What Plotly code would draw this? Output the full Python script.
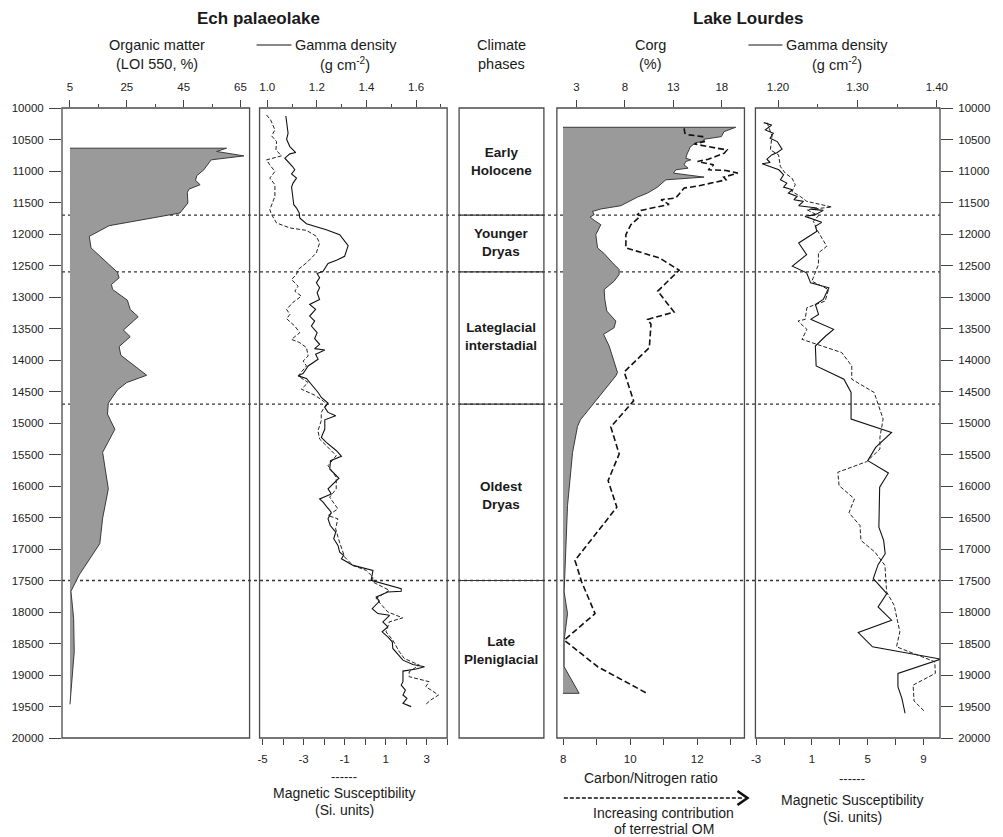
import plotly.graph_objects as go

# ---------------- DATA ----------------
# Ech palaeolake - Organic matter (LOI 550, %)
ech_om_age = [10638, 10690, 10760, 10823, 10981, 11076, 11150, 11218, 11287, 11340,
              11508, 11667, 11868, 12037, 12221, 12607, 12696, 12802, 12881, 13050,
              13197, 13313, 13525, 13630, 13788, 13925, 14094, 14242, 14357, 14475,
              14685, 14859, 15100, 15466, 16046, 16510, 16915, 17407, 17671, 18104,
              18631, 19001, 19466]
ech_om = [60.1, 56.6, 66.2, 54.7, 52.1, 49.6, 49.2, 50.8, 46.9, 46.3,
          46.5, 43.7, 18.8, 11.8, 12.4, 21.7, 22.3, 19.6, 20.0, 25.2,
          26.2, 29.0, 23.8, 26.2, 22.3, 22.9, 27.6, 32.0, 25.0, 21.7,
          18.5, 18.2, 20.8, 16.5, 18.5, 16.5, 15.5, 8.3, 5.35, 6.3,
          6.5, 5.9, 5.0]
ech_om_base = 5

# Ech palaeolake - Gamma density (g cm-2)
ech_gd_age = [10127, 10243, 10401, 10496, 10612, 10707, 10728, 10797, 10876, 10929,
              10981, 11045, 11113, 11192, 11256, 11350, 11535, 11588, 11667, 11746,
              11836, 11931, 12010, 12184, 12353, 12417, 12469, 12591, 12627, 12696,
              12775, 12854, 12933, 13039, 13118, 13197, 13303, 13382, 13461, 13567,
              13662, 13751, 13819, 13841, 13909, 13988, 14094, 14210, 14252, 14294,
              14421, 14516, 14595, 14685, 14753, 14832, 14886, 14949, 15096, 15228,
              15307, 15440, 15529, 15598, 15730, 15877, 16046, 16125, 16205, 16257,
              16336, 16416, 16521, 16627, 16732, 16838, 16944, 17049, 17102, 17154,
              17260, 17339, 17498, 17577, 17629, 17671, 17682, 17761, 17830, 17946,
              18025, 18052, 18157, 18236, 18315, 18394, 18473, 18579, 18685, 18764,
              18832, 18869, 18906, 18938, 19106, 19160, 19239, 19318, 19370, 19449,
              19502]
ech_gd = [1.075, 1.080, 1.084, 1.078, 1.091, 1.115, 1.091, 1.071, 1.091, 1.102,
          1.111, 1.098, 1.118, 1.104, 1.098, 1.102, 1.107, 1.118, 1.129, 1.131,
          1.158, 1.238, 1.292, 1.326, 1.312, 1.279, 1.245, 1.225, 1.201, 1.211,
          1.198, 1.211, 1.201, 1.211, 1.171, 1.195, 1.171, 1.191, 1.178, 1.201,
          1.191, 1.211, 1.191, 1.232, 1.195, 1.205, 1.165, 1.145, 1.125, 1.158,
          1.185, 1.205, 1.218, 1.245, 1.232, 1.245, 1.276, 1.232, 1.232, 1.218,
          1.238, 1.279, 1.299, 1.255, 1.252, 1.289, 1.245, 1.258, 1.211, 1.225,
          1.241, 1.258, 1.245, 1.254, 1.276, 1.268, 1.285, 1.292, 1.308, 1.299,
          1.346, 1.426, 1.419, 1.486, 1.540, 1.540, 1.486, 1.439, 1.452, 1.423,
          1.446, 1.493, 1.466, 1.486, 1.463, 1.486, 1.504, 1.506, 1.530, 1.547,
          1.587, 1.634, 1.600, 1.547, 1.547, 1.540, 1.557, 1.547, 1.563, 1.547,
          1.580]

# Ech palaeolake - Magnetic susceptibility (SI units)
ech_ms_age = [10111, 10190, 10348, 10443, 10533, 10665, 10760, 10823, 10902, 11008,
              11113, 11218, 11403, 11614, 11693, 11825, 11904, 11942, 12037, 12142,
              12300, 12458, 12564, 12643, 12722, 12828, 12907, 12986, 13091, 13197,
              13276, 13345, 13461, 13567, 13672, 13725, 13804, 13936, 14015, 14094,
              14252, 14357, 14463, 14558, 14648, 14701, 14832, 14965, 15122, 15255,
              15361, 15519, 15677, 15861, 16046, 16178, 16363, 16469, 16521, 16679,
              16890, 17127, 17260, 17339, 17443, 17522, 17656, 17787, 17998, 18093,
              18157, 18315, 18447, 18631, 18737, 18843, 18948, 19027, 19106, 19185,
              19318, 19397, 19466]
ech_ms = [-4.81, -4.61, -4.40, -4.56, -4.32, -4.35, -4.08, -4.81, -4.65, -4.40,
          -4.65, -4.40, -4.40, -4.65, -4.56, -4.32, -3.67, -2.86, -2.38, -2.22,
          -2.38, -2.86, -3.27, -3.35, -3.59, -3.27, -3.43, -3.11, -3.54, -3.83,
          -3.67, -3.83, -3.43, -3.19, -3.59, -3.19, -2.86, -2.78, -3.02, -2.86,
          -3.27, -2.78, -3.11, -2.46, -2.05, -1.89, -2.14, -2.14, -2.30, -2.22,
          -1.89, -1.41, -1.81, -1.41, -1.41, -1.73, -1.33, -1.81, -1.33, -1.44,
          -1.25, -1.00, -0.60, 0.05, 0.37, 0.37, 1.18, 0.53, 1.10, 1.83,
          1.18, 1.02, 1.35, 1.67, 1.91, 2.64, 2.15, 2.15, 3.12, 2.96,
          3.58, 3.20, 2.96]

# Lake Lourdes - Corg (%)
lou_corg_age = [10306, 10375, 10454, 10496, 10533, 10549, 10622, 10665, 10717, 10797,
                10823, 10849, 10902, 10955, 10981, 11034, 11097, 11140, 11256, 11350,
                11414, 11551, 11603, 11641, 11693, 11730, 11783, 11852, 12010, 12221,
                12311, 12458, 12564, 12643, 12749, 12881, 13039, 13224, 13329, 13382,
                13487, 13593, 13778, 14199, 14252, 14685, 14950, 15054, 15466, 16310,
                17049, 17682, 18025, 18447, 18869, 19291]
lou_corg = [19.44, 18.23, 17.96, 16.17, 16.00, 15.31, 14.72, 14.62, 14.45, 14.28,
            14.80, 14.28, 14.10, 14.52, 13.25, 13.01, 16.17, 12.22, 11.36, 10.33,
            9.30, 7.57, 5.51, 4.65, 4.82, 4.40, 4.82, 5.51, 4.99, 5.17,
            5.85, 6.72, 7.40, 7.40, 6.88, 5.85, 5.92, 6.13, 6.72, 7.06,
            6.88, 5.79, 6.37, 7.23, 7.06, 4.82, 3.40, 3.10, 2.59, 2.07,
            1.90, 1.72, 2.07, 1.72, 1.72, 3.27]
lou_corg_base = 1.6

# Lake Lourdes - Carbon/Nitrogen ratio
lou_cn_age = [10322, 10401, 10427, 10454, 10533, 10570, 10612, 10665, 10717, 10812,
              10849, 10902, 10981, 10992, 11034, 11097, 11140, 11234, 11271, 11429,
              11456, 11530, 11625, 11693, 11709, 11852, 12010, 12221, 12379, 12575,
              12907, 13239, 13355, 13434, 13804, 14189, 14648, 15062, 15492, 15915,
              16336, 17181, 17523, 18025, 18447, 18869, 19291]
lou_cn = [11.61, 11.63, 11.76, 12.16, 12.21, 11.91, 12.31, 12.89, 12.81, 12.33,
          12.01, 12.49, 12.33, 12.86, 13.21, 12.79, 12.86, 12.06, 11.61, 11.36,
          10.92, 11.16, 10.32, 10.22, 10.32, 10.02, 9.87, 9.87, 10.87, 11.46,
          10.82, 11.31, 10.52, 10.62, 10.57, 9.82, 10.10, 9.42, 9.67, 9.34,
          9.60, 8.35, 8.55, 8.95, 8.03, 9.03, 10.50]

# Lake Lourdes - Gamma density (g cm-2)
lou_gd_age = [10232, 10269, 10348, 10401, 10480, 10533, 10654, 10707, 10744, 10812,
              10865, 10886, 10981, 11060, 11140, 11192, 11256, 11298, 11350, 11403,
              11456, 11482, 11551, 11588, 11605, 11625, 11693, 11720, 11815, 11878,
              11957, 12142, 12327, 12511, 12617, 12775, 12854, 13039, 13118, 13276,
              13355, 13513, 13619, 13778, 14094, 14305, 14516, 14938, 15149, 15387,
              15598, 15793, 16020, 16653, 16864, 17075, 17249, 17470, 17708, 17919,
              18130, 18326, 18552, 18748, 18974, 19185, 19370, 19607]
lou_gd = [1.182, 1.192, 1.184, 1.194, 1.190, 1.199, 1.205, 1.199, 1.192, 1.186,
          1.190, 1.180, 1.201, 1.207, 1.203, 1.211, 1.207, 1.218, 1.213, 1.224,
          1.220, 1.232, 1.226, 1.249, 1.241, 1.257, 1.247, 1.234, 1.255, 1.247,
          1.249, 1.226, 1.236, 1.218, 1.236, 1.241, 1.264, 1.257, 1.247, 1.251,
          1.241, 1.270, 1.260, 1.247, 1.248, 1.283, 1.292, 1.292, 1.343, 1.323,
          1.313, 1.339, 1.328, 1.327, 1.333, 1.335, 1.326, 1.320, 1.337, 1.326,
          1.343, 1.301, 1.319, 1.405, 1.351, 1.351, 1.356, 1.360]

# Lake Lourdes - Magnetic susceptibility (SI units)
lou_ms_age = [10232, 10443, 10665, 10744, 10929, 11034, 11113, 11218, 11324, 11403,
              11482, 11572, 11614, 11709, 11799, 11931, 12195, 12300, 12485, 12617,
              12749, 12881, 13065, 13170, 13355, 13382, 13513, 13672, 13882, 14094,
              14305, 14516, 14938, 15228, 15413, 15613, 15782, 15993, 16204, 16426,
              16627, 16864, 17049, 17260, 17682, 17893, 18315, 18552, 18790, 18974,
              19160, 19413, 19580]
lou_ms = [-2.21, -1.86, -1.98, -1.39, -1.26, -0.91, -0.43, -0.19, -0.43, 0.16,
          0.64, 2.43, 0.64, 1.47, 1.11, 1.36, 2.07, 1.47, 1.47, 1.24,
          1.00, 2.19, 1.95, 0.64, 0.52, 0.00, 0.64, 0.29, 3.14, 3.86,
          3.86, 5.47, 6.11, 5.88, 5.88, 4.93, 2.86, 2.95, 4.05, 3.66,
          4.45, 4.52, 5.52, 6.24, 6.36, 6.90, 7.31, 7.07, 9.81, 9.86,
          8.26, 8.33, 9.09]

# Climate phases
phase_names = ["Early<br>Holocene", "Younger<br>Dryas", "Lateglacial<br>interstadial",
               "Oldest<br>Dryas", "Late<br>Pleniglacial"]
phase_label_age = [10850, 12140, 13620, 16155, 18610]
phase_bounds = [11700, 12600, 14700, 17500]

# Axis ticks
age_ticks = list(range(10000, 20001, 500))
age_labels = [str(a) for a in age_ticks]
ech_om_ticks = [5, 25, 45, 65]
ech_om_minor = [15, 35, 55]
ech_gd_ticks = [1.0, 1.2, 1.4, 1.6]
ech_gd_labels = ["1.0", "1.2", "1.4", "1.6"]
ech_gd_minor = [1.1, 1.3, 1.5, 1.7]
ech_ms_ticks = [-5, -3, -1, 1, 3]
ech_ms_labels = ["-5", "-3", "-1", "1", "3"]
ech_ms_minor = [-4, -2, 0, 2, 4]
lou_corg_ticks = [3, 8, 13, 18]
lou_cn_ticks = [8, 10, 12]
lou_cn_minor = [9, 11, 13]
lou_gd_ticks = [1.20, 1.30, 1.40]
lou_gd_labels = ["1.20", "1.30", "1.40"]
lou_gd_minor = [1.25, 1.35]
lou_ms_ticks = [-3, 1, 5, 9]
lou_ms_labels = ["-3", "1", "5", "9"]
lou_ms_minor = [-1, 3, 7]

# ---------------- LAYOUT GEOMETRY ----------------
W, H = 1003, 837
ML, MR, MT, MB = 60, 63, 108, 99
PW = W - ML - MR
PH = H - MT - MB


def px(x):
    return (x - ML) / PW


def py(y):
    return (H - MB - y) / PH


dom1 = [px(60), px(248)]
dom2 = [px(258), px(446)]
dom3 = [px(458), px(543)]
dom4 = [px(556), px(744)]
dom5 = [px(755), px(940)]

FONT = "Liberation Sans, Arial, Helvetica, sans-serif"
TXT = "#1a1a1a"
AX = "#444444"

fig = go.Figure()

# Panel 1: Ech organic matter (filled)
fig.add_trace(go.Scatter(
    x=[ech_om_base] + ech_om + [ech_om_base],
    y=[ech_om_age[0]] + ech_om_age + [ech_om_age[-1]],
    mode="lines", fill="toself", fillcolor="#9a9a9a",
    line=dict(color="#3a3a3a", width=1), xaxis="x", yaxis="y",
    showlegend=False, hoverinfo="skip"))

# Panel 2: Ech gamma density + magnetic susceptibility
fig.add_trace(go.Scatter(
    x=ech_ms, y=ech_ms_age, mode="lines",
    line=dict(color="#222222", width=1, dash="4px,2px"),
    xaxis="x6", yaxis="y", showlegend=False, hoverinfo="skip"))
fig.add_trace(go.Scatter(
    x=ech_gd, y=ech_gd_age, mode="lines",
    line=dict(color="#111111", width=1.1),
    xaxis="x2", yaxis="y", showlegend=False, hoverinfo="skip"))

# Panel 3: placeholder for climate phases
fig.add_trace(go.Scatter(
    x=[0.5], y=[15000], mode="none", xaxis="x3", yaxis="y",
    showlegend=False, hoverinfo="skip"))

# Panel 4: Lourdes Corg (filled) + C/N
fig.add_trace(go.Scatter(
    x=[lou_corg_base] + lou_corg + [lou_corg_base],
    y=[lou_corg_age[0]] + lou_corg_age + [lou_corg_age[-1]],
    mode="lines", fill="toself", fillcolor="#9a9a9a",
    line=dict(color="#3a3a3a", width=1), xaxis="x4", yaxis="y",
    showlegend=False, hoverinfo="skip"))
fig.add_trace(go.Scatter(
    x=lou_cn, y=lou_cn_age, mode="lines",
    line=dict(color="#111111", width=1.6, dash="6px,3px"),
    xaxis="x7", yaxis="y", showlegend=False, hoverinfo="skip"))

# Panel 5: Lourdes gamma density + magnetic susceptibility
fig.add_trace(go.Scatter(
    x=lou_ms, y=lou_ms_age, mode="lines",
    line=dict(color="#222222", width=1, dash="4px,2px"),
    xaxis="x8", yaxis="y2", showlegend=False, hoverinfo="skip"))
fig.add_trace(go.Scatter(
    x=lou_gd, y=lou_gd_age, mode="lines",
    line=dict(color="#111111", width=1.1),
    xaxis="x5", yaxis="y2", showlegend=False, hoverinfo="skip"))

tickfont = dict(family=FONT, size=11.5, color="#222222")
common = dict(showgrid=False, zeroline=False, showline=False, ticks="outside",
              tickcolor=AX, tickwidth=1, tickfont=tickfont, fixedrange=True)


def minor(vals, length):
    return dict(tickmode="array", tickvals=vals, ticks="outside", ticklen=length,
                tickcolor=AX, tickwidth=1, showgrid=False)


fig.update_layout(
    width=W, height=H,
    margin=dict(l=ML, r=MR, t=MT, b=MB, pad=0),
    paper_bgcolor="white", plot_bgcolor="white",
    font=dict(family=FONT, color=TXT),
    hovermode=False,
    yaxis=dict(domain=[0, 1], range=[20000, 10000], anchor="x", side="left",
               tickmode="array", tickvals=age_ticks, ticktext=age_labels, ticklen=12,
               ticklabelstandoff=3, **common),
    yaxis2=dict(domain=[0, 1], range=[20000, 10000], anchor="x5", side="right",
                tickmode="array", tickvals=age_ticks, ticktext=age_labels, ticklen=12,
                ticklabelstandoff=3, **common),
    xaxis=dict(domain=dom1, range=[2.2, 68.2], side="top", anchor="y",
               tickmode="array", tickvals=ech_om_ticks,
               ticktext=[str(v) for v in ech_om_ticks], ticklen=7,
               minor=minor(ech_om_minor, 3), ticklabelstandoff=4, **common),
    xaxis2=dict(domain=dom2, range=[0.969, 1.725], side="top", anchor="y",
                tickmode="array", tickvals=ech_gd_ticks, ticktext=ech_gd_labels,
                ticklen=7, minor=minor(ech_gd_minor, 3), ticklabelstandoff=4, **common),
    xaxis3=dict(domain=dom3, range=[0, 1], anchor="y", visible=False,
                fixedrange=True),
    xaxis4=dict(domain=dom4, range=[0.97, 20.34], side="top", anchor="y",
                tickmode="array", tickvals=lou_corg_ticks,
                ticktext=[str(v) for v in lou_corg_ticks], ticklen=7,
                ticklabelstandoff=4, **common),
    xaxis5=dict(domain=dom5, range=[1.1715, 1.404], side="top", anchor="y2",
                tickmode="array", tickvals=lou_gd_ticks, ticktext=lou_gd_labels,
                ticklen=7, minor=minor(lou_gd_minor, 3), ticklabelstandoff=4, **common),
    xaxis6=dict(overlaying="x2", range=[-5.15, 4.0], side="bottom", anchor="y",
                tickmode="array", tickvals=ech_ms_ticks, ticktext=ech_ms_labels,
                ticklen=6, minor=minor(ech_ms_minor, 6), ticklabelstandoff=4, **common),
    xaxis7=dict(overlaying="x4", range=[7.81, 13.41], side="bottom", anchor="y",
                tickmode="array", tickvals=lou_cn_ticks,
                ticktext=[str(v) for v in lou_cn_ticks], ticklen=6,
                minor=minor(lou_cn_minor, 6), ticklabelstandoff=4, **common),
    xaxis8=dict(overlaying="x5", range=[-3.05, 10.19], side="bottom", anchor="y2",
                tickmode="array", tickvals=lou_ms_ticks, ticktext=lou_ms_labels,
                ticklen=6, minor=minor(lou_ms_minor, 6), ticklabelstandoff=4, **common),
)

shapes = []
# Dotted phase boundaries across the whole figure (below the data)
for b in phase_bounds:
    shapes.append(dict(type="line", xref="paper", yref="y", x0=0, x1=1, y0=b, y1=b,
                       layer="below", line=dict(color="#333333", width=1.3, dash="dot")))
# Solid boundaries within the climate phase panel
for b in phase_bounds:
    shapes.append(dict(type="line", xref="x3 domain", yref="y", x0=0, x1=1, y0=b, y1=b,
                       layer="above", line=dict(color="#333333", width=1.2)))
# Panel frames
for ax in ["x", "x2", "x3", "x4", "x5"]:
    shapes.append(dict(type="rect", xref=ax + " domain", yref="y domain",
                       x0=0, x1=1, y0=0, y1=1, layer="above",
                       line=dict(color="#4a4a4a", width=1.3)))
# Legend line segments next to "Gamma density"
for x0, x1 in [(255, 290), (748, 782)]:
    shapes.append(dict(type="line", xref="paper", yref="paper",
                       x0=px(x0), x1=px(x1), y0=py(45), y1=py(45),
                       line=dict(color="#111111", width=1.2)))
# Dashed arrow at the bottom (C/N ratio)
shapes.append(dict(type="line", xref="paper", yref="paper",
                   x0=px(563), x1=px(742), y0=py(798), y1=py(798),
                   line=dict(color="#111111", width=1.6, dash="4px,2px")))
shapes.append(dict(type="path", xref="paper", yref="paper",
                   path=f"M {px(737)} {py(791)} L {px(747)} {py(798)} L {px(737)} {py(805)}",
                   line=dict(color="#111111", width=2.6)))
fig.update_layout(shapes=shapes)

ann = []


def label(text, x, y, size=14.5, bold=False, xanchor="center"):
    t = f"<b>{text}</b>" if bold else text
    ann.append(dict(text=t, x=px(x), y=py(y), xref="paper", yref="paper",
                    showarrow=False, xanchor=xanchor, yanchor="middle",
                    font=dict(family=FONT, size=size, color=TXT)))


label("Ech palaeolake", 257, 18, size=17, bold=True)
label("Lake Lourdes", 748, 18, size=17, bold=True)
label("Organic matter", 155, 45)
label("(LOI 550, %)", 155, 64)
label("Gamma density", 292, 45, xanchor="left")
label("(g cm<sup>-2</sup>)", 344, 64)
label("Climate", 500, 45)
label("phases", 500, 64)
label("Corg", 650, 45)
label("(%)", 650, 64)
label("Gamma density", 784, 45, xanchor="left")
label("(g cm<sup>-2</sup>)", 837, 64)

label("------", 343, 776, size=13)
label("Magnetic Susceptibility", 343, 793, size=14)
label("(Si. units)", 343, 810, size=14)
label("Carbon/Nitrogen ratio", 650, 778, size=14)
label("Increasing contribution", 663, 813, size=14)
label("of terrestrial OM", 663, 829, size=14)
label("------", 852, 778, size=13)
label("Magnetic Susceptibility", 852, 800, size=14)
label("(Si. units)", 852, 817, size=14)

for name, age in zip(phase_names, phase_label_age):
    ann.append(dict(text=f"<b>{name}</b>", x=0.5, y=age, xref="x3", yref="y",
                    showarrow=False, xanchor="center", yanchor="middle",
                    font=dict(family=FONT, size=13.5, color=TXT)))

fig.update_layout(annotations=ann)

fig.write_html("out.html", config={"displayModeBar": False},
               post_script="document.body.style.margin='0px';")
